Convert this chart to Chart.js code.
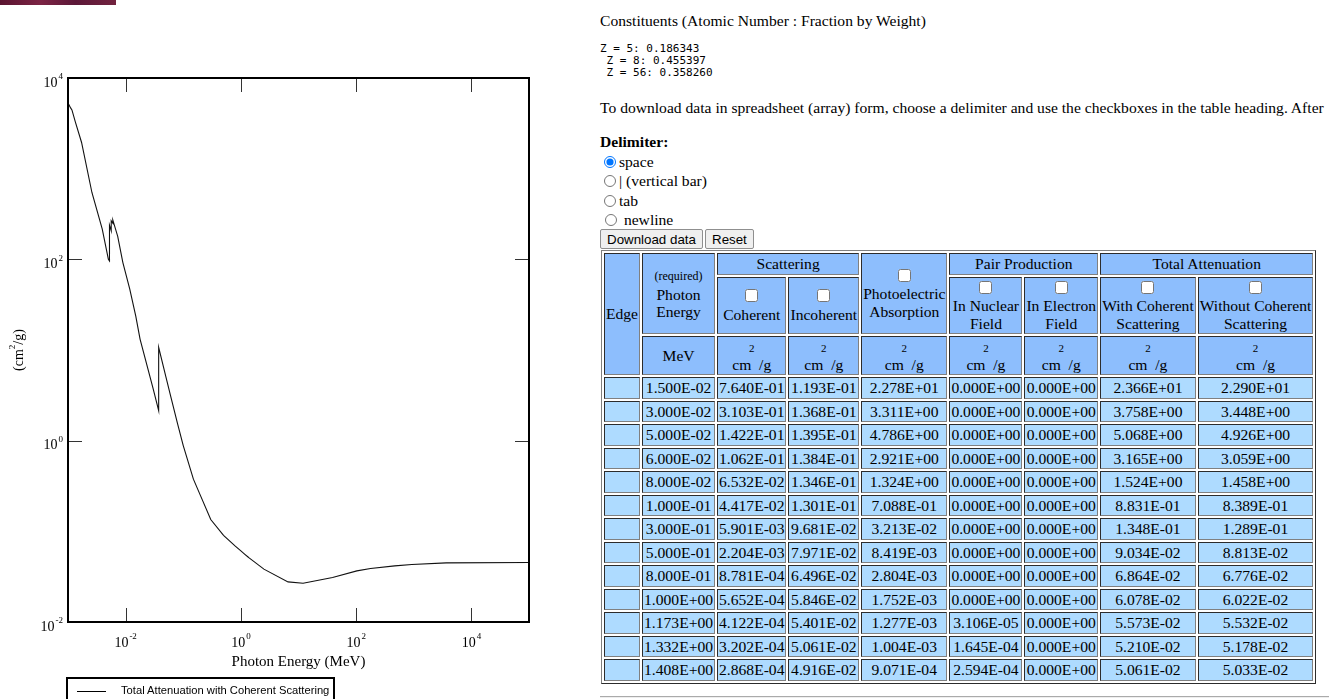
<!DOCTYPE html>
<html>
<head>
<meta charset="utf-8">
<script src="https://cdn.jsdelivr.net/npm/chart.js@4/dist/chart.umd.min.js"></script>
<style>
  body { margin:0; width:1329px; height:699px; overflow:hidden; background:#fff; position:relative;
         font-family:"Liberation Serif","Times New Roman",serif; font-size:15.6px; color:#000; }
  #banner { position:absolute; left:0; top:0; width:116px; height:5px;
            background:linear-gradient(90deg,#5a1430,#7c2444 35%,#5c1838 65%,#72233f); }
  #plot { position:absolute; left:0; top:0; }
  #legend { position:absolute; left:66px; top:677px; width:265px; height:40px; border:2px solid #000;
            font-family:"Liberation Sans",Arial,sans-serif; font-size:11.2px; }
  #legend .sample { position:absolute; left:9px; top:12px; width:29px; height:1px; background:#000; }
  #legend .txt { position:absolute; left:53px; top:5px; white-space:nowrap; }
  #page { position:absolute; left:600px; top:0; width:729px; height:699px; }
  .blk { position:absolute; left:0; margin:0; white-space:nowrap; }
  pre.blk { font-family:"DejaVu Sans Mono",monospace; font-size:11px; line-height:12px; white-space:pre; }
  .radio { position:absolute; left:0; height:19px; line-height:19px; white-space:nowrap; }
  .radio input { margin:0 3px 0 4px; vertical-align:-1px; width:12px; height:12px; }
  button { position:absolute; top:229px; height:20px; padding:0 6px; font-family:"Liberation Sans",Arial,sans-serif;
           font-size:13.33px; background:#efefef; border:1px solid #8f8f8f; border-radius:2px; }
  table.xcom { position:absolute; left:1px; top:250px; text-align:center; font-size:15.6px; }
  table.xcom td { background:#aedbff; white-space:nowrap; line-height:17.5px; }
  table.xcom td.h { background:#8dbefd; }
  table.xcom input { margin:2px 3px 0 3px; }
  .small { font-size:12px; }
  .sup2 { font-size:11px; line-height:11px; }
  hr.end { position:absolute; left:0; top:696px; width:729px; margin:0; border:0; border-top:1px solid #aaa; border-bottom:1px solid #eee; }
</style>
</head>
<body>
<div id="banner"></div>
<canvas id="plot" width="560" height="699"></canvas>
<div id="legend"><div class="sample"></div><div class="txt">Total Attenuation with Coherent Scattering</div></div>

<div id="page">
  <div class="blk" style="top:12px">Constituents (Atomic Number : Fraction by Weight)</div>
  <pre class="blk" style="top:43px">Z = 5: 0.186343
 Z = 8: 0.455397
 Z = 56: 0.358260</pre>
  <div class="blk" style="top:99px">To download data in spreadsheet (array) form, choose a delimiter and use the checkboxes in the table heading. After</div>
  <div class="blk" style="top:133px"><b>Delimiter:</b></div>
  <div class="radio" style="top:152px"><input type="radio" name="d" checked>space</div>
  <div class="radio" style="top:171px"><input type="radio" name="d">| (vertical bar)</div>
  <div class="radio" style="top:191px"><input type="radio" name="d">tab</div>
  <div class="radio" style="top:210px"><input type="radio" name="d" style="margin-left:5px"> newline</div>
  <button style="left:0">Download data</button>
  <button style="left:105px">Reset</button>
  <table class="xcom" id="tbl" border="1" cellspacing="2" cellpadding="1"></table>
  <hr class="end">
</div>

<script>
// curve: photon energy (MeV) and total attenuation with coherent scattering (cm2/g)
const energyMeV = [
  0.001, 0.00101, 0.00111, 0.00117, 0.00134, 0.00172, 0.0026, 0.00393, 0.00502,
  0.005247, 0.005247, 0.005624, 0.005624, 0.005989, 0.005989, 0.00729, 0.00896, 0.0118,
  0.015, 0.0178, 0.03, 0.03744, 0.03744, 0.05, 0.06, 0.08, 0.1, 0.15, 0.2, 0.3, 0.5,
  0.8, 1.0, 1.173, 1.332, 1.408, 2.51, 6.58, 12, 39, 103, 178, 467, 927, 3660, 100000
];
const attenWithCoherent = [
  5000, 5250, 4680, 4450, 3280, 1945, 546, 215, 100,
  96, 238, 206, 266, 250, 272, 179, 92, 46.9,
  23.66, 13.2, 3.758, 2.15, 10.7, 5.068, 3.165, 1.524, 0.8831, 0.376, 0.246, 0.1348, 0.09034,
  0.06864, 0.06078, 0.05573, 0.0521, 0.05061, 0.0383, 0.0277, 0.0268, 0.031, 0.0366, 0.0389, 0.0416, 0.0431, 0.0449, 0.0454
];
const xTickValues = [1e-2, 1e0, 1e2, 1e4];
const xTickExps = ["-2", "0", "2", "4"];
const yTickValues = [1e-2, 1e0, 1e2, 1e4];
const yTickExps = ["-2", "0", "2", "4"];

// table shown at the right of the page
const tblEnergy = ["1.500E-02","3.000E-02","5.000E-02","6.000E-02","8.000E-02","1.000E-01","3.000E-01","5.000E-01","8.000E-01","1.000E+00","1.173E+00","1.332E+00","1.408E+00"];
const tblCoherent = ["7.640E-01","3.103E-01","1.422E-01","1.062E-01","6.532E-02","4.417E-02","5.901E-03","2.204E-03","8.781E-04","5.652E-04","4.122E-04","3.202E-04","2.868E-04"];
const tblIncoherent = ["1.193E-01","1.368E-01","1.395E-01","1.384E-01","1.346E-01","1.301E-01","9.681E-02","7.971E-02","6.496E-02","5.846E-02","5.401E-02","5.061E-02","4.916E-02"];
const tblPhoto = ["2.278E+01","3.311E+00","4.786E+00","2.921E+00","1.324E+00","7.088E-01","3.213E-02","8.419E-03","2.804E-03","1.752E-03","1.277E-03","1.004E-03","9.071E-04"];
const tblNuclear = ["0.000E+00","0.000E+00","0.000E+00","0.000E+00","0.000E+00","0.000E+00","0.000E+00","0.000E+00","0.000E+00","0.000E+00","3.106E-05","1.645E-04","2.594E-04"];
const tblElectron = ["0.000E+00","0.000E+00","0.000E+00","0.000E+00","0.000E+00","0.000E+00","0.000E+00","0.000E+00","0.000E+00","0.000E+00","0.000E+00","0.000E+00","0.000E+00"];
const tblWith = ["2.366E+01","3.758E+00","5.068E+00","3.165E+00","1.524E+00","8.831E-01","1.348E-01","9.034E-02","6.864E-02","6.078E-02","5.573E-02","5.210E-02","5.061E-02"];
const tblWithout = ["2.290E+01","3.448E+00","4.926E+00","3.059E+00","1.458E+00","8.389E-01","1.289E-01","8.813E-02","6.776E-02","6.022E-02","5.532E-02","5.178E-02","5.033E-02"];

/* ===== TABLE ===== */
const cb = '<input type="checkbox">';
const unit = '<span class="sup2">2</span><br>cm&nbsp;&nbsp;/g';
let html = '<tr>' +
  '<td class="h" rowspan="3">Edge</td>' +
  '<td class="h" rowspan="2"><span class="small">(required)</span><br>Photon<br>Energy</td>' +
  '<td class="h" colspan="2">Scattering</td>' +
  '<td class="h" rowspan="2">' + cb + '<br>Photoelectric<br>Absorption</td>' +
  '<td class="h" colspan="2">Pair Production</td>' +
  '<td class="h" colspan="2">Total Attenuation</td></tr>';
html += '<tr>' +
  '<td class="h">' + cb + '<br>Coherent</td>' +
  '<td class="h">' + cb + '<br>Incoherent</td>' +
  '<td class="h">' + cb + '<br>In Nuclear<br>Field</td>' +
  '<td class="h">' + cb + '<br>In Electron<br>Field</td>' +
  '<td class="h">' + cb + '<br>With Coherent<br>Scattering</td>' +
  '<td class="h">' + cb + '<br>Without Coherent<br>Scattering</td></tr>';
html += '<tr><td class="h">MeV</td>' + ('<td class="h">' + unit + '</td>').repeat(7) + '</tr>';
tblEnergy.forEach((e, i) => {
  html += '<tr><td></td><td>' + [e, tblCoherent[i], tblIncoherent[i], tblPhoto[i], tblNuclear[i],
    tblElectron[i], tblWith[i], tblWithout[i]].join('</td><td>') + '</td></tr>';
});
document.getElementById("tbl").innerHTML = html;

/* ===== CHART ===== */
const serif = '"Liberation Serif", "Times New Roman", serif';

function drawPow(ctx, exp, x, y, align) {
  ctx.font = '14px ' + serif;
  const wBase = ctx.measureText("10").width;
  ctx.font = '9px ' + serif;
  const wExp = ctx.measureText(exp).width;
  const start = align === "right" ? x - wBase - wExp - 1 : x - (wBase + wExp + 1) / 2;
  ctx.textAlign = "left";
  ctx.textBaseline = "middle";
  ctx.font = '14px ' + serif;
  ctx.fillText("10", start, y);
  ctx.font = '9px ' + serif;
  ctx.fillText(exp, start + wBase + 1, y - 6);
}

const frameAndLabels = {
  id: "frameAndLabels",
  afterDraw(chart) {
    const { ctx, chartArea: a, scales: { x, y } } = chart;
    ctx.save();
    ctx.fillStyle = "#000";

    // inward ticks on all four sides
    ctx.strokeStyle = "#333";
    ctx.lineWidth = 1;
    ctx.beginPath();
    xTickValues.forEach(v => {
      const px = Math.round(x.getPixelForValue(v)) + 0.5;
      ctx.moveTo(px, a.bottom); ctx.lineTo(px, a.bottom - 14);
      ctx.moveTo(px, a.top); ctx.lineTo(px, a.top + 14);
    });
    yTickValues.forEach(v => {
      const py = Math.round(y.getPixelForValue(v)) + 0.5;
      ctx.moveTo(a.left, py); ctx.lineTo(a.left + 14, py);
      ctx.moveTo(a.right, py); ctx.lineTo(a.right - 14, py);
    });
    ctx.stroke();

    // frame
    ctx.strokeStyle = "#000";
    ctx.lineWidth = 2;
    ctx.strokeRect(a.left, a.top, a.right - a.left, a.bottom - a.top);

    // tick labels
    xTickValues.forEach((v, i) => drawPow(ctx, xTickExps[i], x.getPixelForValue(v), a.bottom + 21, "center"));
    yTickValues.forEach((v, i) => drawPow(ctx, yTickExps[i], a.left - 5, y.getPixelForValue(v) + 5, "right"));

    // axis titles
    ctx.font = '15px ' + serif;
    ctx.textAlign = "center";
    ctx.textBaseline = "middle";
    ctx.fillText("Photon Energy (MeV)", (a.left + a.right) / 2, a.bottom + 40);

    ctx.translate(19, (a.top + a.bottom) / 2);
    ctx.rotate(-Math.PI / 2);
    ctx.font = '14px ' + serif;
    const w1 = ctx.measureText("(cm").width;
    const w3 = ctx.measureText("/g)").width;
    ctx.font = '9px ' + serif;
    const w2 = ctx.measureText("2").width;
    let sx = -(w1 + w2 + w3) / 2;
    ctx.textAlign = "left";
    ctx.font = '14px ' + serif;
    ctx.fillText("(cm", sx, 0);
    ctx.font = '9px ' + serif;
    ctx.fillText("2", sx + w1, -6);
    ctx.font = '14px ' + serif;
    ctx.fillText("/g)", sx + w1 + w2, 0);
    ctx.restore();
  }
};

new Chart(document.getElementById("plot"), {
  type: "line",
  data: {
    datasets: [{
      label: "Total Attenuation with Coherent Scattering",
      data: energyMeV.map((e, i) => ({ x: e, y: attenWithCoherent[i] })),
      borderColor: "#111",
      borderWidth: 1.1,
      pointRadius: 0,
      tension: 0,
      fill: false
    }]
  },
  options: {
    responsive: false,
    animation: false,
    devicePixelRatio: 1,
    layout: { padding: { left: 68, top: 78, right: 31, bottom: 77 } },
    plugins: { legend: { display: false }, tooltip: { enabled: false } },
    scales: {
      x: { type: "logarithmic", min: 1e-3, max: 1e5, display: false },
      y: { type: "logarithmic", min: 1e-2, max: 1e4, display: false }
    }
  },
  plugins: [frameAndLabels]
});
</script>
</body>
</html>
